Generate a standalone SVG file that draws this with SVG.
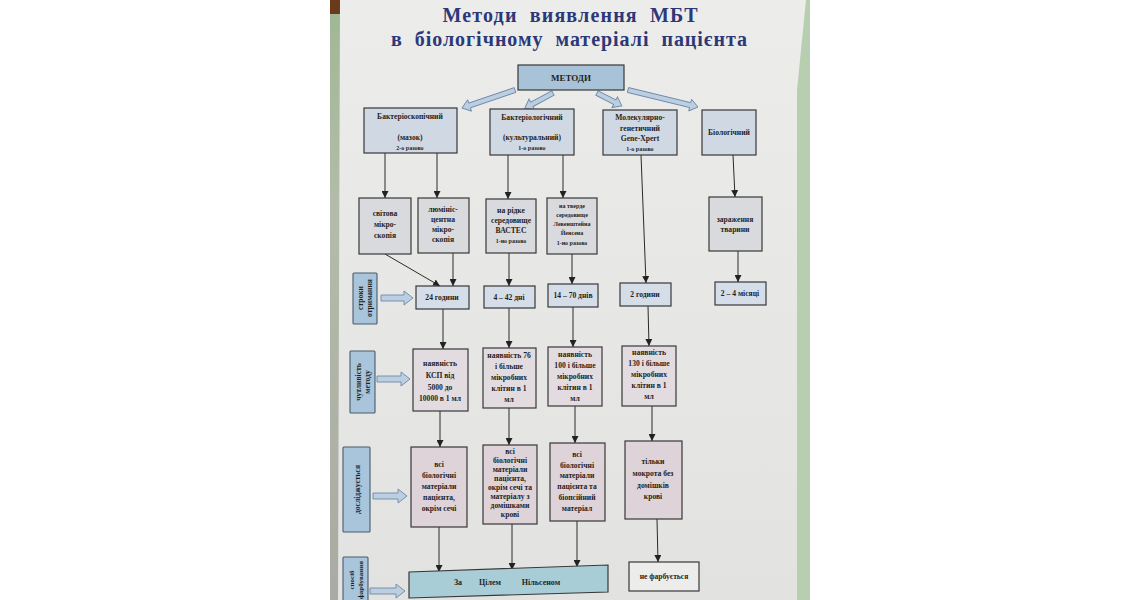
<svg xmlns="http://www.w3.org/2000/svg" width="1140" height="600" viewBox="0 0 1140 600">
<style>
.t{font-family:"Liberation Serif","Times New Roman",serif;font-weight:bold;fill:#1f1f1f;text-anchor:middle;font-size:7.6px}
.s{font-size:6px}
.ttl{font-family:"Liberation Serif","Times New Roman",serif;font-weight:bold;fill:#2c3877;text-anchor:middle;font-size:20px}
.box{stroke:#383838;stroke-width:1.2}
.m{fill:#d0d9e3}
.r2{fill:#d9dadd}
.r3{fill:#d5dde8}
.r4{fill:#e2dbe0}
.r5{fill:#ddd3d8}
.lab{fill:#a8c5dc;stroke:#4a5a6a;stroke-width:1.1}
.ba{fill:#bccfe2;stroke:#6d88a5;stroke-width:0.9}
.c{stroke:#2a2a2a;stroke-width:1;fill:none;marker-end:url(#ah)}
</style>
<defs>
<marker id="ah" viewBox="0 0 10 10" refX="10" refY="5" markerWidth="7" markerHeight="7" orient="auto"><path d="M0,0 L10,5 L0,10 Z" fill="#222"/></marker>
<linearGradient id="poster" x1="0" y1="0" x2="0" y2="1"><stop offset="0" stop-color="#ececeb"/><stop offset="1" stop-color="#e2e3e1"/></linearGradient>
<linearGradient id="lstrip" x1="0" y1="0" x2="0" y2="1"><stop offset="0" stop-color="#9fb894"/><stop offset="0.35" stop-color="#b3bca9"/><stop offset="1" stop-color="#a9aaa4"/></linearGradient>
</defs>
<rect width="1140" height="600" fill="#ffffff"/>
<g id="photo-bg">
<rect x="330" y="0" width="480" height="600" fill="url(#lstrip)"/>
<rect x="330" y="0" width="10" height="14" fill="#6b3a1a"/>
<polygon points="797,0 810,0 810,600 797,600" fill="#b7cfb0"/>
<polygon points="340,0 806,0 797,90 797,600 338,600" fill="url(#poster)"/>
</g>
<g id="title">
<text class="ttl" x="570" y="22" textLength="255" lengthAdjust="spacing" word-spacing="6">Методи виявлення МБТ</text>
<text class="ttl" x="569" y="46" textLength="356" lengthAdjust="spacing" word-spacing="6">в біологічному матеріалі пацієнта</text>
</g>
<g id="block-arrows">
<path class="ba" transform="translate(515,90) rotate(161.2)" d="M0,-2.5 H48 V-6 L56,0 L48,6 V2.5 H0 Z"/>
<path class="ba" transform="translate(553,93) rotate(151.8)" d="M0,-2.5 H24 V-6 L32,0 L24,6 V2.5 H0 Z"/>
<path class="ba" transform="translate(597,93) rotate(27.5)" d="M0,-2.5 H20 V-6 L28,0 L20,6 V2.5 H0 Z"/>
<path class="ba" transform="translate(628,90) rotate(13.65)" d="M0,-2.5 H64 V-6 L72,0 L64,6 V2.5 H0 Z"/>
<path class="ba" transform="translate(381,298)" d="M0,-3 H23 V-7 L32,0 L23,7 V3 H0 Z"/>
<path class="ba" transform="translate(377,379)" d="M0,-3 H24 V-7 L33,0 L24,7 V3 H0 Z"/>
<path class="ba" transform="translate(373,496)" d="M0,-3 H25 V-7 L34,0 L25,7 V3 H0 Z"/>
<path class="ba" transform="translate(370,591)" d="M0,-3 H26 V-7 L35,0 L26,7 V3 H0 Z"/>
</g>
<g id="connectors">
<line class="c" x1="385" y1="153" x2="385" y2="198"/>
<line class="c" x1="437" y1="153" x2="437" y2="198"/>
<line class="c" x1="508" y1="155" x2="508" y2="199"/>
<line class="c" x1="563" y1="155" x2="563" y2="198"/>
<line class="c" x1="641" y1="155" x2="646" y2="283"/>
<line class="c" x1="733" y1="155" x2="735" y2="197"/>
<line class="c" x1="385" y1="254" x2="440" y2="286"/>
<line class="c" x1="453" y1="253" x2="453" y2="286"/>
<line class="c" x1="509" y1="253" x2="509" y2="286"/>
<line class="c" x1="572" y1="254" x2="572" y2="284"/>
<line class="c" x1="738" y1="251" x2="738" y2="282"/>
<line class="c" x1="443" y1="309" x2="443" y2="349"/>
<line class="c" x1="509" y1="308" x2="509" y2="348"/>
<line class="c" x1="573" y1="307" x2="573" y2="347"/>
<line class="c" x1="648" y1="306" x2="649" y2="346"/>
<line class="c" x1="440" y1="411" x2="440" y2="447"/>
<line class="c" x1="509" y1="408" x2="509" y2="445"/>
<line class="c" x1="575" y1="406" x2="575" y2="443"/>
<line class="c" x1="652" y1="406" x2="652" y2="441"/>
<line class="c" x1="439" y1="527" x2="439" y2="572"/>
<line class="c" x1="512" y1="524" x2="512" y2="570"/>
<line class="c" x1="577" y1="521" x2="577" y2="567"/>
<line class="c" x1="657" y1="519" x2="658" y2="562"/>
</g>
<g id="n-metody">
<rect class="box" x="518" y="65" width="106" height="25" fill="#a8c3d7"/>
<text class="t" x="571" y="81" style="font-size:9px">МЕТОДИ</text>
</g>
<g id="n-bakterioskop">
<rect class="box m" x="364" y="108" width="93" height="45"/>
<text class="t" x="410" y="119">Бактеріоскопічний</text>
<text class="t" x="410" y="140">(мазок)</text>
<text class="t s" x="410" y="150">2-о разово</text>
</g>
<g id="n-bakteriolog">
<rect class="box m" x="490" y="109" width="84" height="46"/>
<text class="t" x="532" y="120">Бактеріологічний</text>
<text class="t" x="532" y="140">(культуральний)</text>
<text class="t s" x="532" y="150">1-о разово</text>
</g>
<g id="n-molekul">
<rect class="box m" x="603" y="110" width="74" height="45"/>
<text class="t" x="640" y="120">Молекулярно-</text>
<text class="t" x="640" y="131">генетичний</text>
<text class="t" x="640" y="141">Gene-Xpert</text>
<text class="t s" x="640" y="151">1-о разово</text>
</g>
<g id="n-biolog">
<rect class="box m" x="702" y="110" width="54" height="45"/>
<text class="t" x="729" y="135">Біологічний</text>
</g>
<g id="n-svitova">
<rect class="box r2" x="359" y="198" width="52" height="56"/>
<text class="t" x="385" y="216">світова</text>
<text class="t" x="385" y="227">мікро-</text>
<text class="t" x="385" y="238">скопія</text>
</g>
<g id="n-lyumin">
<rect class="box r2" x="418" y="198" width="51" height="55"/>
<text class="t" x="443" y="212">люмініс-</text>
<text class="t" x="443" y="222">центна</text>
<text class="t" x="443" y="232">мікро-</text>
<text class="t" x="443" y="242">скопія</text>
</g>
<g id="n-ridke">
<rect class="box r2" x="486" y="199" width="50" height="54"/>
<text class="t" x="511" y="213">на рідке</text>
<text class="t" x="511" y="223">середовище</text>
<text class="t" x="511" y="233">ВАСТЕС</text>
<text class="t s" x="511" y="243">1-но разово</text>
</g>
<g id="n-tverde">
<rect class="box r2" x="547" y="198" width="50" height="56"/>
<text class="t s" x="572" y="208">на тверде</text>
<text class="t s" x="572" y="217">середовище</text>
<text class="t s" x="572" y="226">Левенштейна</text>
<text class="t s" x="572" y="235">Йенсена</text>
<text class="t s" x="572" y="245">1-но разово</text>
</g>
<g id="n-zarazh">
<rect class="box r2" x="709" y="197" width="53" height="54"/>
<text class="t" x="735" y="222">зараження</text>
<text class="t" x="735" y="232">тварини</text>
</g>
<g id="l-stroky">
<rect class="lab" x="353" y="273" width="24" height="51" rx="1"/>
<text class="t" transform="translate(365,298) rotate(-90)" x="0" y="-2">строки</text>
<text class="t" transform="translate(365,298) rotate(-90)" x="0" y="7">отримання</text>
</g>
<g id="n-24">
<rect class="box r3" x="416" y="286" width="53" height="23"/>
<text class="t" x="442" y="300">24 години</text>
</g>
<g id="n-4-42">
<rect class="box r3" x="484" y="286" width="51" height="22"/>
<text class="t" x="509" y="300">4 – 42 дні</text>
</g>
<g id="n-14-70">
<rect class="box r3" x="548" y="284" width="50" height="23"/>
<text class="t" x="573" y="298">14 – 70 днів</text>
</g>
<g id="n-2h">
<rect class="box r3" x="620" y="283" width="51" height="23"/>
<text class="t" x="645" y="297">2 години</text>
</g>
<g id="n-2-4">
<rect class="box r3" x="715" y="282" width="51" height="23"/>
<text class="t" x="740" y="296">2 – 4 місяці</text>
</g>
<g id="l-chutlyv">
<rect class="lab" x="350" y="351" width="25" height="62" rx="1"/>
<text class="t" transform="translate(362.5,382) rotate(-90)" x="0" y="-2">чутливість</text>
<text class="t" transform="translate(362.5,382) rotate(-90)" x="0" y="7">методу</text>
</g>
<g id="n-ksp">
<rect class="box r4" x="413" y="349" width="55" height="62"/>
<text class="t" x="440" y="366">наявність</text>
<text class="t" x="440" y="378">КСП від</text>
<text class="t" x="440" y="390">5000 до</text>
<text class="t" x="440" y="401">10000 в 1 мл</text>
</g>
<g id="n-76">
<rect class="box r4" x="483" y="348" width="53" height="60"/>
<text class="t" x="509" y="358">наявність 76</text>
<text class="t" x="509" y="369">і більше</text>
<text class="t" x="509" y="380">мікробних</text>
<text class="t" x="509" y="391">клітин в 1</text>
<text class="t" x="509" y="402">мл</text>
</g>
<g id="n-100">
<rect class="box r4" x="548" y="347" width="54" height="59"/>
<text class="t" x="575" y="357">наявність</text>
<text class="t" x="575" y="368">100 і більше</text>
<text class="t" x="575" y="379">мікробних</text>
<text class="t" x="575" y="390">клітин в 1</text>
<text class="t" x="575" y="401">мл</text>
</g>
<g id="n-130">
<rect class="box r4" x="622" y="346" width="54" height="60"/>
<text class="t" x="649" y="355">наявність</text>
<text class="t" x="649" y="366">130 і більше</text>
<text class="t" x="649" y="377">мікробних</text>
<text class="t" x="649" y="388">клітин в 1</text>
<text class="t" x="649" y="399">мл</text>
</g>
<g id="l-doslid">
<rect class="lab" x="343" y="447" width="27" height="85" rx="1"/>
<text class="t" transform="translate(356.5,489.5) rotate(-90)" x="0" y="3">досліджується</text>
</g>
<g id="n-vsi1">
<rect class="box r5" x="411" y="447" width="56" height="80"/>
<text class="t" x="439" y="467">всі</text>
<text class="t" x="439" y="478">біологічні</text>
<text class="t" x="439" y="489">матеріали</text>
<text class="t" x="439" y="500">пацієнта,</text>
<text class="t" x="439" y="511">окрім сечі</text>
</g>
<g id="n-vsi2">
<rect class="box r5" x="483" y="445" width="54" height="79"/>
<text class="t" x="510" y="454">всі</text>
<text class="t" x="510" y="463">біологічні</text>
<text class="t" x="510" y="472">матеріали</text>
<text class="t" x="510" y="481">пацієнта,</text>
<text class="t" x="510" y="490">окрім сечі та</text>
<text class="t" x="510" y="499">матеріалу з</text>
<text class="t" x="510" y="508">домішками</text>
<text class="t" x="510" y="517">крові</text>
</g>
<g id="n-vsi3">
<rect class="box r5" x="550" y="443" width="55" height="78"/>
<text class="t" x="577" y="457">всі</text>
<text class="t" x="577" y="468">біологічні</text>
<text class="t" x="577" y="478">матеріали</text>
<text class="t" x="577" y="489">пацієнта та</text>
<text class="t" x="577" y="500">біопсійний</text>
<text class="t" x="577" y="511">матеріал</text>
</g>
<g id="n-mokrota">
<rect class="box r5" x="625" y="441" width="57" height="78"/>
<text class="t" x="653" y="464">тільки</text>
<text class="t" x="653" y="476">мокрота без</text>
<text class="t" x="653" y="488">домішків</text>
<text class="t" x="653" y="499">крові</text>
</g>
<g id="l-sposib">
<rect class="lab" x="343" y="557" width="25" height="60" rx="1"/>
<text class="t" transform="translate(355.5,580) rotate(-90)" x="0" y="-2" style="font-size:7px">спосіб</text>
<text class="t" transform="translate(355.5,580) rotate(-90)" x="0" y="7" style="font-size:7px">фарбування</text>
</g>
<g id="n-ziel">
<polygon class="box" points="409,572 608,565 608,592 409,598" fill="#a9cdd6"/>
<text class="t" y="585" style="font-size:8px"><tspan x="458">За</tspan><tspan x="490">Цілем</tspan><tspan x="541">Нільсеном</tspan></text>
</g>
<g id="n-nefarb">
<rect class="box" x="629" y="562" width="70" height="29" fill="#ececeb"/>
<text class="t" x="664" y="579">не фарбується</text>
</g>
</svg>
